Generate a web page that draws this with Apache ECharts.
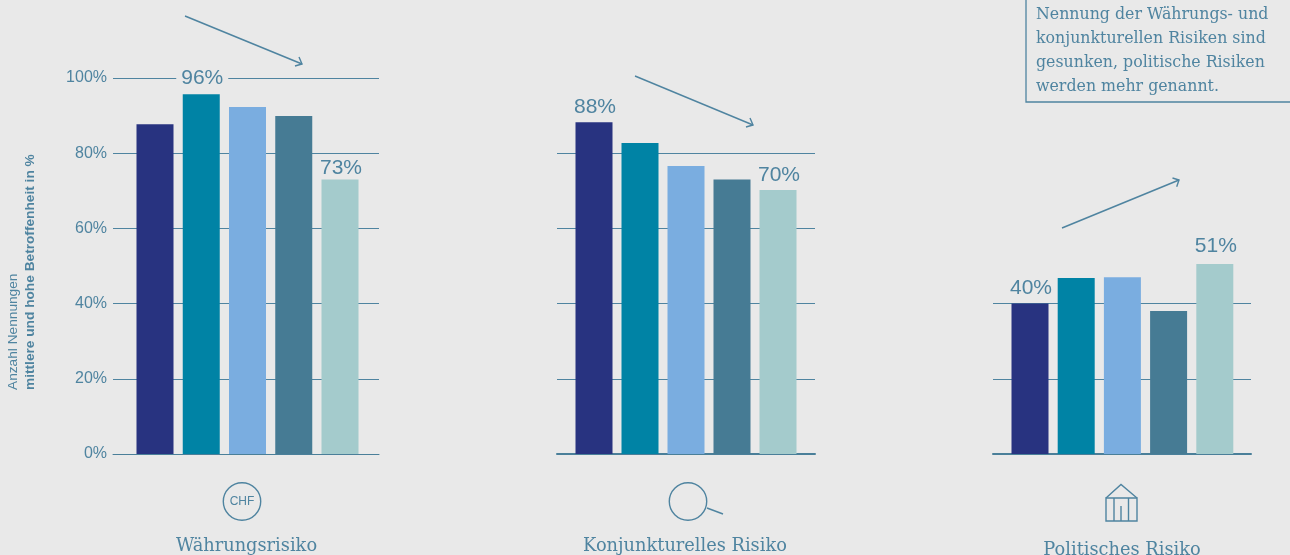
<!DOCTYPE html>
<html>
<head>
<meta charset="utf-8">
<style>html,body{margin:0;padding:0;background:#e9e9e9;overflow:hidden}#c{width:1290px;height:555px}</style>
<script src="https://cdn.jsdelivr.net/npm/echarts@6/dist/echarts.min.js"></script>
</head>
<body>
<div id="c"></div>
<script>
const years = ['1', '2', '3', '4', '5'];
const barColors = ['#283380', '#0083a5', '#7aade0', '#467b94', '#a4cbcc'];
const waehrung = [87.7, 95.7, 92.3, 89.9, 73];
const konjunktur = [88.2, 82.7, 76.6, 73, 70.2];
const politik = [40, 46.8, 47, 38, 50.5];
const panelTitles = ['Währungsrisiko', 'Konjunkturelles Risiko', 'Politisches Risiko'];
const labelled = [[1, 4], [0, 4], [0, 4]];
const yMax = [100, 80, 40];
const note = ['Nennung der Währungs- und', 'konjunkturellen Risiken sind', 'gesunken, politische Risiken', 'werden mehr genannt.'];

const INK = '#4f84a0';
const SERIF = '"DejaVu Serif", serif';
const SANS = '"Liberation Sans", sans-serif';
const BG = '#e9e9e9';
const PX = 3.76;
const BASE = 454;
const frames = [
  {l: 113, r: 379, c0: 155, pitch: 46.25, base: 1, data: waehrung, dist: {1: 5, 4: 1}},
  {l: 557, r: 815, c0: 594, pitch: 46, base: 2, data: konjunktur, dist: {0: 5, 4: 4}},
  {l: 993, r: 1251, c0: 1030, pitch: 46.2, base: 2, data: politik, dist: {0: 5, 4: 7}}
];

const grid = [], xAxis = [], yAxis = [], series = [];
frames.forEach((f, i) => {
  grid.push({left: f.l, width: f.r - f.l, top: BASE - yMax[i] * PX, height: yMax[i] * PX});
  xAxis.push({
    type: 'value', gridIndex: i,
    min: 1 + (f.l - f.c0) / f.pitch, max: 1 + (f.r - f.c0) / f.pitch,
    axisLabel: {show: false}, axisTick: {show: false}, splitLine: {show: false},
    axisLine: {show: true, onZero: false, lineStyle: {color: '#4a7f99', width: f.base}}
  });
  yAxis.push({
    type: 'value', gridIndex: i, min: 0, max: yMax[i], interval: 20,
    axisLine: {show: false}, axisTick: {show: false},
    splitLine: {show: true, lineStyle: {color: INK, width: 1}},
    axisLabel: {show: i === 0, color: INK, fontFamily: SANS, fontSize: 16, margin: 6,
      padding: [2, 0, 0, 0], formatter: v => v + '%'}
  });
  series.push({
    type: 'bar', xAxisIndex: i, yAxisIndex: i, barWidth: 37, clip: false, z: 3, silent: true,
    data: f.data.map((v, k) => ({
      value: [k + 1, v],
      name: years[k],
      itemStyle: {color: barColors[k]},
      label: labelled[i].includes(k) ? {
        show: true, position: 'top', distance: f.dist[k], color: INK,
        fontFamily: SANS, fontSize: 21, offset: [1, 0],
        backgroundColor: i === 0 && k === 1 ? BG : 'transparent',
        padding: i === 0 && k === 1 ? [0, 5, 0, 5] : 0,
        formatter: Math.round(v) + '%'
      } : {show: false}
    }))
  });
});

const stroke = {stroke: INK, lineWidth: 1.4, fill: null};
function arrow(x1, y1, x2, y2, a, b) {
  return [
    {type: 'line', shape: {x1, y1, x2, y2}, style: stroke, silent: true},
    {type: 'polyline', shape: {points: [a, [x2, y2], b]}, style: stroke, silent: true}
  ];
}
function txt(x, y, text, font, size, align, extra) {
  return Object.assign({type: 'text', x, y, silent: true,
    style: {text, fill: INK, font: size + 'px ' + font, textAlign: align, textVerticalAlign: 'middle'}}, extra || {});
}
const g = [];
g.push(...arrow(185, 16, 302, 64, [299, 57], [295, 66]));
g.push(...arrow(635, 76, 753, 125, [750, 118], [746, 127]));
g.push(...arrow(1062, 228, 1179, 180, [1172.5, 178], [1176.7, 186.7]));
g.push({type: 'rect', shape: {x: 1026, y: -5, width: 280, height: 107}, style: {stroke: INK, lineWidth: 1.3, fill: null}, silent: true});
note.forEach((t, i) => g.push(txt(1036, 14.5 + 24 * i, t, SERIF, 15.8, 'left')));
g.push(txt(246.5, 546.5, panelTitles[0], SERIF, 17.8, 'center'));
g.push(txt(685, 546.5, panelTitles[1], SERIF, 17.8, 'center'));
g.push(txt(1122, 550, panelTitles[2], SERIF, 17.8, 'center'));
// icons
g.push({type: 'circle', shape: {cx: 242, cy: 501.5, r: 18.7}, style: stroke, silent: true});
g.push(txt(242, 502, 'CHF', SANS, 12, 'center'));
g.push({type: 'circle', shape: {cx: 688, cy: 501.5, r: 18.7}, style: stroke, silent: true});
g.push({type: 'line', shape: {x1: 707, y1: 508, x2: 723, y2: 514}, style: stroke, silent: true});
g.push({type: 'polyline', shape: {points: [[1106, 498], [1121, 484.5], [1137, 498]]}, style: stroke, silent: true});
g.push({type: 'rect', shape: {x: 1106, y: 498, width: 31, height: 23}, style: stroke, silent: true});
[[1114, 498], [1128.5, 498], [1121, 506]].forEach(([x, y]) =>
  g.push({type: 'line', shape: {x1: x, y1: y, x2: x, y2: 521}, style: stroke, silent: true}));
// y title
g.push(txt(13, 390, 'Anzahl Nennungen', SANS, 13.7, 'left', {rotation: Math.PI / 2}));
g.push(txt(30, 390, 'mittlere und hohe Betroffenheit in %', SANS, 13.7, 'left',
  {rotation: Math.PI / 2, style: {text: 'mittlere und hohe Betroffenheit in %', fill: INK,
    font: 'bold 13.7px ' + SANS, textAlign: 'left', textVerticalAlign: 'middle'}}));

const chart = echarts.init(document.getElementById('c'), null, {renderer: 'canvas'});
chart.setOption({
  backgroundColor: BG, animation: false, tooltip: {show: false},
  grid, xAxis, yAxis, series, graphic: {elements: g}
});
</script>
</body>
</html>
